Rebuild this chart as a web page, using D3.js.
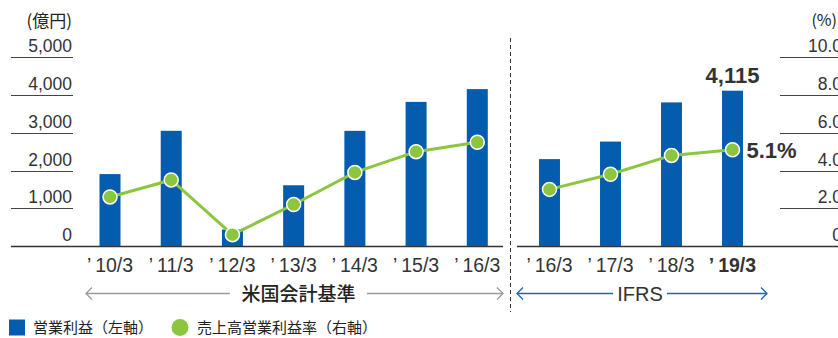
<!DOCTYPE html>
<html lang="ja">
<head>
<meta charset="utf-8">
<script src="https://cdn.jsdelivr.net/npm/d3@7"></script>
<style>
  html, body { margin: 0; padding: 0; background: #fff; }
  svg { display: block; }
  .num { font-family: "Liberation Sans", Arial, sans-serif; fill: #333; }
  .jp { font-family: "Noto Sans CJK JP", sans-serif; fill: #222; }
</style>
</head>
<body>
<svg id="chart" width="838" height="338"></svg>
<script>
// 米国会計基準（US GAAP）期間
const usYears = ["’10/3", "’11/3", "’12/3", "’13/3", "’14/3", "’15/3", "’16/3"];
const usProfit = [1905, 3052, 437, 1609, 3051, 3819, 4157];     // 営業利益（億円）
const usMargin = [2.6, 3.5, 0.6, 2.2, 3.9, 5.0, 5.5];           // 売上高営業利益率（%）

// IFRS 期間
const ifrsYears = ["’16/3", "’17/3", "’18/3", "’19/3"];
const ifrsProfit = [2302, 2767, 3805, 4115];
const ifrsMargin = [3.0, 3.8, 4.8, 5.1];

// 軸目盛
const leftTicks = [0, 1000, 2000, 3000, 4000, 5000];
const rightTicks = [0, 2.0, 4.0, 6.0, 8.0, 10.0];

const BLUE = "#035cad";
const GREEN = "#8cc63f";

const svg = d3.select("#chart");

const yL = d3.scaleLinear().domain([0, 5000]).range([246, 57.3]);
const yR = d3.scaleLinear().domain([0, 10]).range([246, 57.3]);

const xUS = d3.scaleBand().domain(usYears).range([79.4, 507.9])
  .paddingInner(0.657).paddingOuter(0.3285);
const xIF = d3.scaleBand().domain(ifrsYears).range([519, 763])
  .paddingInner(0.657).paddingOuter(0.3285);

// 左軸（億円）
const gL = svg.append("g");
gL.selectAll("line").data(leftTicks.filter(d => d > 0)).join("line")
  .attr("x1", 11).attr("x2", 73)
  .attr("y1", d => Math.round(yL(d)) + 0.5).attr("y2", d => Math.round(yL(d)) + 0.5)
  .attr("stroke", "#444").attr("stroke-width", 1);
gL.selectAll("text").data(leftTicks).join("text")
  .attr("class", "num")
  .attr("x", 72).attr("y", d => yL(d) - 5)
  .attr("text-anchor", "end").attr("font-size", 17.5).attr("fill", "#3a3a3a")
  .text(d => d3.format(",")(d));
svg.append("text").attr("class", "jp")
  .attr("x", 72).attr("y", 27).attr("text-anchor", "end")
  .attr("font-size", 17).attr("fill", "#333")
  .text("(億円)");

// 右軸（%）
const gR = svg.append("g");
gR.selectAll("line").data(rightTicks.filter(d => d > 0)).join("line")
  .attr("x1", 780).attr("x2", 838)
  .attr("y1", d => Math.round(yR(d)) + 0.5).attr("y2", d => Math.round(yR(d)) + 0.5)
  .attr("stroke", "#444").attr("stroke-width", 1);
gR.selectAll("text").data(rightTicks).join("text")
  .attr("class", "num")
  .attr("x", 842).attr("y", d => yR(d) - 5)
  .attr("text-anchor", "end").attr("font-size", 17.5).attr("fill", "#3a3a3a")
  .text(d => d === 0 ? "0" : d3.format(".1f")(d));
svg.append("text").attr("class", "jp")
  .attr("x", 837).attr("y", 26).attr("text-anchor", "end")
  .attr("font-size", 16).attr("fill", "#333")
  .text("(%)");

// ベースライン
svg.append("line").attr("x1", 11).attr("x2", 503).attr("y1", 246.5).attr("y2", 246.5)
  .attr("stroke", "#333").attr("stroke-width", 1.4);
svg.append("line").attr("x1", 517).attr("x2", 838).attr("y1", 246.5).attr("y2", 246.5)
  .attr("stroke", "#333").attr("stroke-width", 1.4);

// 区切りの点線
svg.append("line").attr("x1", 510.5).attr("x2", 510.5).attr("y1", 38).attr("y2", 312)
  .attr("stroke", "#333").attr("stroke-width", 1).attr("stroke-dasharray", "4,3");

// 棒（営業利益）
function drawBars(x, cats, vals) {
  svg.append("g").selectAll("rect").data(cats).join("rect")
    .attr("x", d => x(d)).attr("width", x.bandwidth())
    .attr("y", (d, i) => yL(vals[i]))
    .attr("height", (d, i) => yL(0) - yL(vals[i]))
    .attr("fill", BLUE);
}
drawBars(xUS, usYears, usProfit);
drawBars(xIF, ifrsYears, ifrsProfit);

// 折れ線（売上高営業利益率）
function drawLine(x, cats, vals) {
  const pts = cats.map((c, i) => [x(c) + x.bandwidth() / 2, yR(vals[i])]);
  svg.append("path").datum(pts)
    .attr("d", d3.line())
    .attr("fill", "none").attr("stroke", GREEN).attr("stroke-width", 3);
  svg.append("g").selectAll("circle").data(pts).join("circle")
    .attr("cx", d => d[0]).attr("cy", d => d[1]).attr("r", 7)
    .attr("fill", GREEN).attr("stroke", "#fff").attr("stroke-width", 1.5);
}
drawLine(xUS, usYears, usMargin);
drawLine(xIF, ifrsYears, ifrsMargin);

// X軸ラベル
function drawXLabels(x, cats, boldLast) {
  svg.append("g").selectAll("text").data(cats).join("text")
    .attr("class", "num")
    .attr("x", d => x(d) + x.bandwidth() / 2).attr("y", 271.5)
    .attr("text-anchor", "middle").attr("font-size", 19.5)
    .attr("font-weight", (d, i) => boldLast && i === cats.length - 1 ? "bold" : "normal")
    .attr("fill", (d, i) => boldLast && i === cats.length - 1 ? "#222" : "#3a3a3a")
    .text(d => d.replace("’", "’\u2009"));
}
drawXLabels(xUS, usYears, false);
drawXLabels(xIF, ifrsYears, true);

// 最新期の値ラベル
const lastCat = ifrsYears[ifrsYears.length - 1];
const lastX = xIF(lastCat) + xIF.bandwidth() / 2;
svg.append("text").attr("class", "num")
  .attr("x", lastX).attr("y", yL(ifrsProfit[ifrsProfit.length - 1]) - 8)
  .attr("text-anchor", "middle").attr("font-size", 22).attr("font-weight", "bold")
  .attr("fill", "#222")
  .text(d3.format(",")(ifrsProfit[ifrsProfit.length - 1]));
svg.append("text").attr("class", "num")
  .attr("x", lastX + 14).attr("y", yR(ifrsMargin[ifrsMargin.length - 1]) + 8)
  .attr("font-size", 22).attr("font-weight", "bold").attr("fill", "#222")
  .text(d3.format(".1f")(ifrsMargin[ifrsMargin.length - 1]) + "%");

// 会計基準の範囲矢印
function arrowRange(x1, x2, gapL, gapR, y, color, label, cls, size, weight) {
  const g = svg.append("g");
  g.append("line").attr("x1", x1).attr("x2", gapL).attr("y1", y).attr("y2", y)
    .attr("stroke", color).attr("stroke-width", 1.3);
  g.append("line").attr("x1", gapR).attr("x2", x2).attr("y1", y).attr("y2", y)
    .attr("stroke", color).attr("stroke-width", 1.3);
  g.append("path").attr("d", `M${x1 + 6},${y - 6}L${x1},${y}L${x1 + 6},${y + 6}`)
    .attr("fill", "none").attr("stroke", color).attr("stroke-width", 1.3);
  g.append("path").attr("d", `M${x2 - 6},${y - 6}L${x2},${y}L${x2 - 6},${y + 6}`)
    .attr("fill", "none").attr("stroke", color).attr("stroke-width", 1.3);
  g.append("text").attr("class", cls)
    .attr("x", (gapL + gapR) / 2).attr("y", y + 7)
    .attr("text-anchor", "middle").attr("font-size", size).attr("font-weight", weight)
    .attr("fill", "#222").text(label);
}
arrowRange(86, 503, 230, 367, 293.5, "#9a9a9a", "米国会計基準", "jp", 19, 500);
arrowRange(517, 767, 613, 667, 293.5, "#1b66b3", "IFRS", "num", 20, "normal");

// 凡例
const legend = svg.append("g");
legend.append("rect").attr("x", 9).attr("y", 319.5).attr("width", 16).attr("height", 16).attr("fill", BLUE);
legend.append("text").attr("class", "jp").attr("x", 33).attr("y", 333)
  .attr("font-size", 15).attr("fill", "#333").text("営業利益（左軸）");
legend.append("circle").attr("cx", 180).attr("cy", 327.5).attr("r", 8.5).attr("fill", GREEN);
legend.append("text").attr("class", "jp").attr("x", 197).attr("y", 333)
  .attr("font-size", 15).attr("fill", "#333").text("売上高営業利益率（右軸）");
</script>
</body>
</html>
